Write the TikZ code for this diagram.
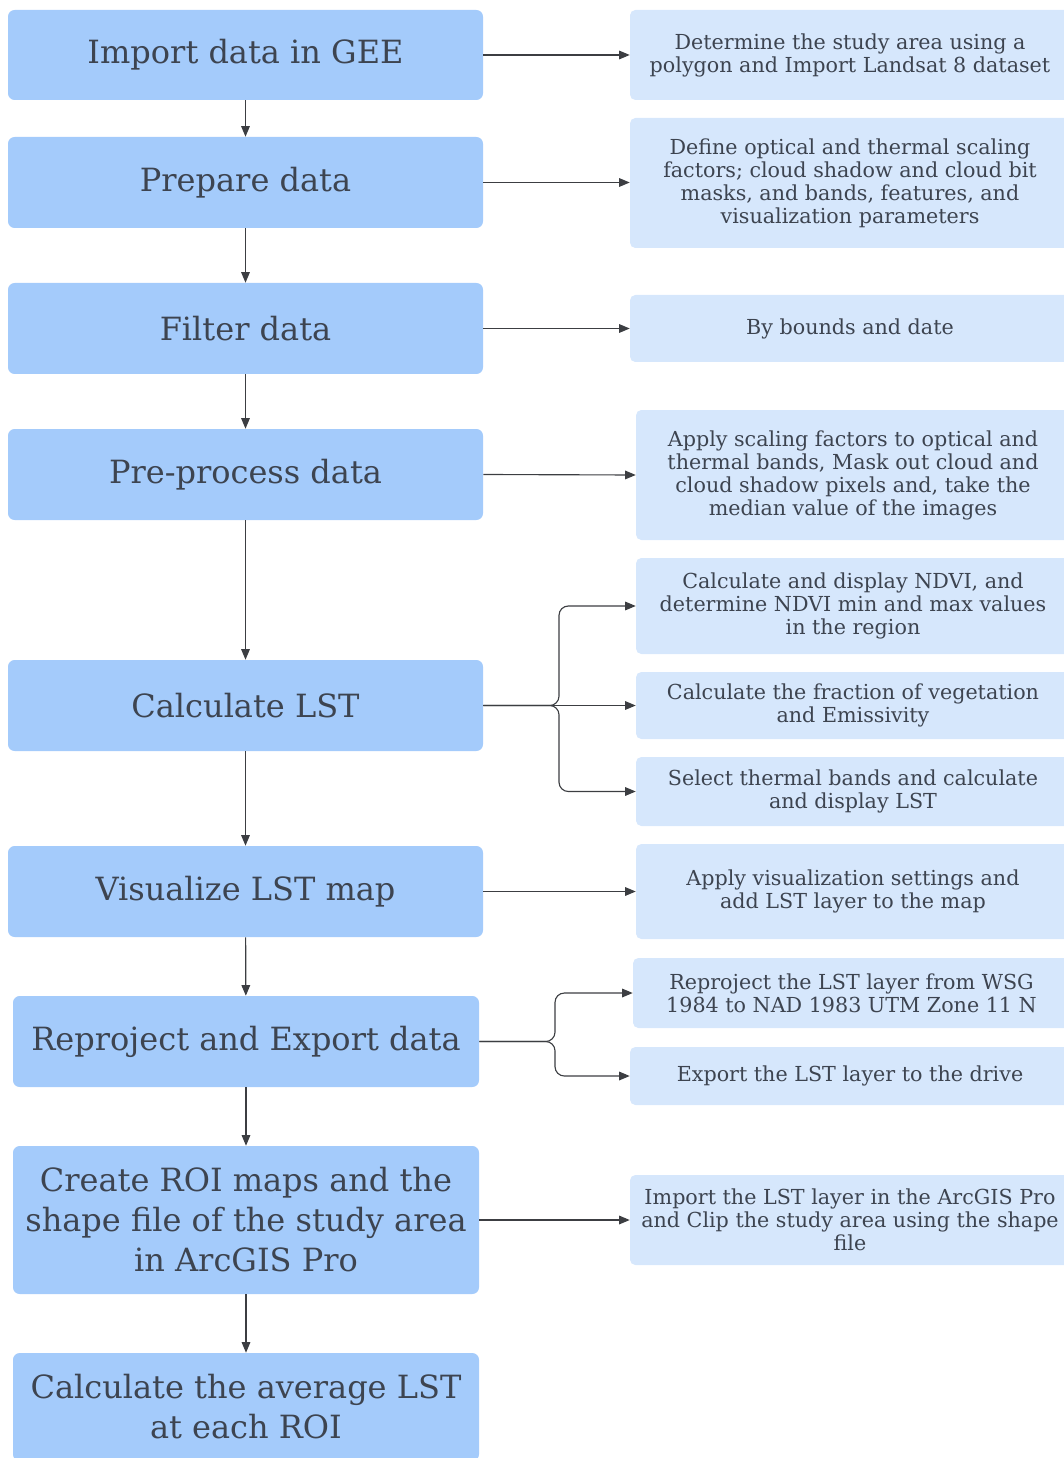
\documentclass[tikz,border=0pt]{standalone}
\usepackage{fontspec}
\setmainfont{DejaVu Serif}
\usetikzlibrary{arrows.meta}
\definecolor{lfill}{RGB}{164,203,251}
\definecolor{rfill}{RGB}{214,231,252}
\definecolor{txt}{RGB}{61,68,80}
\definecolor{arrc}{RGB}{60,62,66}
\begin{document}
\begin{tikzpicture}[x=0.75pt,y=-0.75pt,
 lbox/.style={fill=lfill, rounded corners=5pt, text=txt, font=\fontsize{24}{30}\selectfont, align=center, inner sep=0pt, minimum width=356.25pt, minimum height=68.25pt},
 rbox/.style={fill=rfill, rounded corners=4pt, text=txt, font=\fontsize{15.5}{17.25}\selectfont, align=center, inner sep=0pt, minimum width=330pt},
 conn/.style={draw=arrc, line width=0.85pt, -{Triangle[length=8pt,width=6.5pt]}},
 brconn/.style={conn, rounded corners=7pt}]
\useasboundingbox (0,0) rectangle (1063,1458);
% left column
\node[lbox, minimum height=67.5pt] (L1) at (245.5,55) {Import data in GEE};
\node[lbox] (L2) at (245.5,182.5) {Prepare data};
\node[lbox] (L3) at (245.5,328.5) {Filter data};
\node[lbox] (L4) at (245.5,474.5) {Pre-process data};
\node[lbox] (L5) at (245.5,705.5) {Calculate LST};
\node[lbox] (L6) at (245.5,891.5) {Visualize LST map};
\node[lbox, minimum width=349.5pt] (L7) at (246,1041.5) {Reproject and Export data};
\node[lbox, minimum width=349.5pt, minimum height=111pt] (L8) at (246,1220) {Create ROI maps and the\\shape file of the study area\\in ArcGIS Pro};
\node[lbox, minimum width=349.5pt, minimum height=81pt] (L9) at (246,1407) {Calculate the average LST\\at each ROI};
% right column
\node[rbox, minimum height=67.5pt] (R1) at (850,55) {Determine the study area using a\\polygon and Import Landsat 8 dataset};
\node[rbox, minimum height=97.5pt] (R2) at (850,183) {Define optical and thermal scaling\\factors; cloud shadow and cloud bit\\masks, and bands, features, and\\visualization parameters};
\node[rbox, minimum height=50.25pt] (R3) at (850,328.5) {By bounds and date};
\node[rbox, minimum width=325.5pt, minimum height=97.5pt] (R4) at (853,475) {Apply scaling factors to optical and\\thermal bands, Mask out cloud and\\cloud shadow pixels and, take the\\median value of the images};
\node[rbox, minimum width=325.5pt, minimum height=72pt] (R5) at (853,606) {Calculate and display NDVI, and\\determine NDVI min and max values\\in the region};
\node[rbox, minimum width=325.5pt, minimum height=50.25pt] (R6) at (853,705.5) {Calculate the fraction of vegetation\\and Emissivity};
\node[rbox, minimum width=325.5pt, minimum height=51.75pt] (R7) at (853,791.5) {Select thermal bands and calculate\\and display LST};
\node[rbox, minimum width=325.5pt, minimum height=71.25pt] (R8) at (853,891.5) {Apply visualization settings and\\add LST layer to the map};
\node[rbox, minimum width=327.75pt, minimum height=52.5pt] (R9) at (851.5,993) {Reproject the LST layer from WSG\\1984 to NAD 1983 UTM Zone 11 N};
\node[rbox, minimum height=43.5pt] (R10) at (850,1076) {Export the LST layer to the drive};
\node[rbox, minimum height=67.5pt] (R11) at (850,1220) {Import the LST layer in the ArcGIS Pro\\and Clip the study area using the shape\\file};
% vertical flow
\draw[conn] (L1) -- (L2);
\draw[conn] (L2) -- (L3);
\draw[conn] (L3) -- (L4);
\draw[conn] (L4) -- (L5);
\draw[conn] (L5) -- (L6);
\draw[conn] (L6) -- (L7);
\draw[conn] (L7) -- (L8);
\draw[conn] (L8) -- (L9);
% horizontal
\draw[conn] (L1.east) -- (R1.west);
\draw[conn] (L2.east) -- (L2.east -| R2.west);
\draw[conn] (L3.east) -- (L3.east -| R3.west);
\draw[conn] (L4.east) -- (R4.west);
\draw[conn] (L6.east) -- (R6.west |- L6.east);
\draw[conn] (L8.east) -- (R11.west);
% branches
\coordinate (b5) at (559,705.5);
\draw[brconn] (L5.east) -- (b5) |- (R5.west);
\draw[brconn] (L5.east) -- (b5) |- (R7.west);
\draw[conn] (L5.east) -- (R6.west);
\coordinate (b7) at (555,1041.5);
\draw[brconn] (L7.east) -- (b7) |- (R9.west);
\draw[brconn] (L7.east) -- (b7) |- (R10.west);
\end{tikzpicture}
\end{document}
